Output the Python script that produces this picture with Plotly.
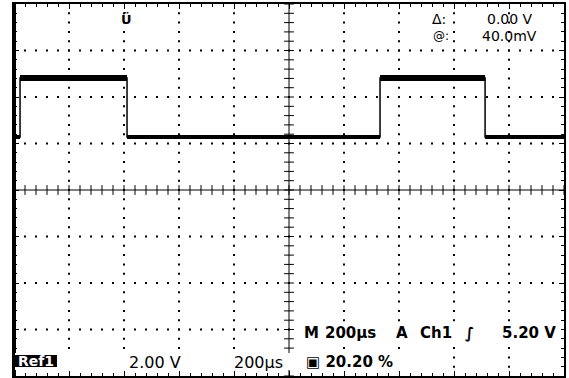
import plotly.graph_objects as go

time_us = [0, 22, 411, 1331, 1713, 2000]          # µs, step change times
level_v = [2.28, 4.82, 2.28, 4.82, 2.28, 2.28]    # volts at each step
high_v = 4.82

# ---- scope settings ----
x_range = [0, 2000]   # 200 µs/div, 10 divisions
y_range = [-8, 8]     # 2 V/div, 8 divisions
x_div = 200
y_div = 2
sub = 5

W, H = 569, 378
L, R, T, B = 14, 5, 4, 2
PW, PH = W - L - R, H - T - B


def px(x):
    return (x - L) / PW


def py(y):
    return (H - B - y) / PH


fig = go.Figure()

# dotted graticule
gx, gy = [], []
xs_sub = [x_range[0] + i * x_div / sub for i in range(int((x_range[1] - x_range[0]) / (x_div / sub)) + 1)]
ys_sub = [y_range[0] + i * y_div / sub for i in range(int((y_range[1] - y_range[0]) / (y_div / sub)) + 1)]
xc = (x_range[0] + x_range[1]) / 2
yc = (y_range[0] + y_range[1]) / 2
for k in range(1, 10):
    t = x_range[0] + k * x_div
    if t == xc:
        continue
    for v in ys_sub[1:-1]:
        gx.append(t); gy.append(v)
for k in range(1, 8):
    v = y_range[0] + k * y_div
    if v == yc:
        continue
    for t in xs_sub[1:-1]:
        gx.append(t); gy.append(v)
fig.add_trace(go.Scatter(x=gx, y=gy, mode="markers", hoverinfo="skip",
                         marker=dict(symbol="square", size=2, color="black", line=dict(width=0))))

# center cross ticks
fig.add_trace(go.Scatter(x=[xc] * len(ys_sub), y=ys_sub, mode="markers", hoverinfo="skip",
                         marker=dict(symbol="line-ew", size=7, line=dict(width=1, color="black"))))
fig.add_trace(go.Scatter(x=xs_sub, y=[yc] * len(xs_sub), mode="markers", hoverinfo="skip",
                         marker=dict(symbol="line-ns", size=7, line=dict(width=1, color="black"))))

# signal: thin edges
fig.add_trace(go.Scatter(x=time_us, y=level_v, mode="lines", line_shape="hv",
                         line=dict(color="black", width=1.5), hoverinfo="skip"))

# signal: thick noisy plateaus
hx, hy, lx, ly = [], [], [], []
for i in range(len(time_us) - 1):
    if level_v[i] >= high_v:
        hx += [time_us[i], time_us[i + 1], None]; hy += [level_v[i], level_v[i], None]
    else:
        lx += [time_us[i], time_us[i + 1], None]; ly += [level_v[i], level_v[i], None]
fig.add_trace(go.Scatter(x=hx, y=hy, mode="lines", line=dict(color="black", width=6), hoverinfo="skip"))
fig.add_trace(go.Scatter(x=lx, y=ly, mode="lines", line=dict(color="black", width=4), hoverinfo="skip"))

shapes = [
    dict(type="line", xref="x", yref="y", x0=xc, x1=xc, y0=y_range[0], y1=y_range[1],
         line=dict(color="black", width=1)),
    dict(type="line", xref="x", yref="y", x0=x_range[0], x1=x_range[1], y0=yc, y1=yc,
         line=dict(color="black", width=1)),
    dict(type="line", xref="paper", yref="paper", x0=0, x1=0, y0=0, y1=1,
         line=dict(color="black", width=4)),
    # background behind bottom readouts
    dict(type="rect", xref="paper", yref="paper", x0=px(299), x1=px(561), y0=py(341), y1=py(325),
         fillcolor="white", line=dict(width=0), layer="above"),
    dict(type="rect", xref="paper", yref="paper", x0=px(15), x1=px(400), y0=py(370), y1=py(353),
         fillcolor="white", line=dict(width=0), layer="above"),
    dict(type="rect", xref="paper", yref="paper", x0=px(14), x1=px(57), y0=py(367), y1=py(355),
         fillcolor="black", line=dict(width=0), layer="above"),
]

FB = "DejaVu Sans"


def ann(text, x, y, xanchor="left", size=14, bold=False, color="black", pad=1):
    t = f"<b>{text}</b>" if bold else text
    return dict(text=t, x=px(x), y=py(y), xref="paper", yref="paper", xanchor=xanchor,
                yanchor="middle", showarrow=False, borderpad=pad,
                font=dict(family=FB, size=size, color=color))


annotations = [
    ann("Ü", 126, 20, "center", 13, True),
    ann("Δ:", 431, 19, "left", 14, False, "black", 0),
    ann("0.00 V", 534, 19, "right", 14, False, "black", 0),
    ann("@:", 432, 36, "left", 12, False, "black", 0),
    ann("40.0mV", 538, 36, "right", 14, False, "black", 0),
    ann("M", 302, 333, "left", 15, True),
    ann("200µs", 323, 333, "left", 15, True),
    ann("A", 394, 333, "left", 15, True),
    ann("Ch1", 418, 333, "left", 15, True),
    ann("∫", 469, 333, "center", 15, True),
    ann("5.20 V", 558, 333, "right", 15, True),
    ann("Ref1", 36, 361, "center", 14, True, "white"),
    ann("2.00 V", 127, 362, "left", 16),
    ann("200µs", 232, 362, "left", 16),
    ann("▣ 20.20 %", 304, 362, "left", 15, True),
]

axis_common = dict(showgrid=False, zeroline=False, showticklabels=False, ticks="inside",
                   ticklen=5, tickwidth=1, tickcolor="black", showline=True, linecolor="black",
                   linewidth=2, mirror="ticks", fixedrange=True)

fig.update_layout(
    width=W, height=H,
    margin=dict(l=L, r=R, t=T, b=B),
    paper_bgcolor="white", plot_bgcolor="white",
    showlegend=False,
    xaxis=dict(range=x_range, tick0=0, dtick=x_div,
               minor=dict(tick0=0, dtick=x_div / sub, ticks="inside", ticklen=3, tickcolor="black", showgrid=False),
               **axis_common),
    yaxis=dict(range=y_range, tick0=0, dtick=y_div,
               minor=dict(tick0=0, dtick=y_div / sub, ticks="inside", ticklen=3, tickcolor="black", showgrid=False),
               **axis_common),
    shapes=shapes,
    annotations=annotations,
)

fig.write_html("out.html", config={"displayModeBar": False},
               post_script="document.body.style.margin='0';document.body.style.overflow='hidden';")
